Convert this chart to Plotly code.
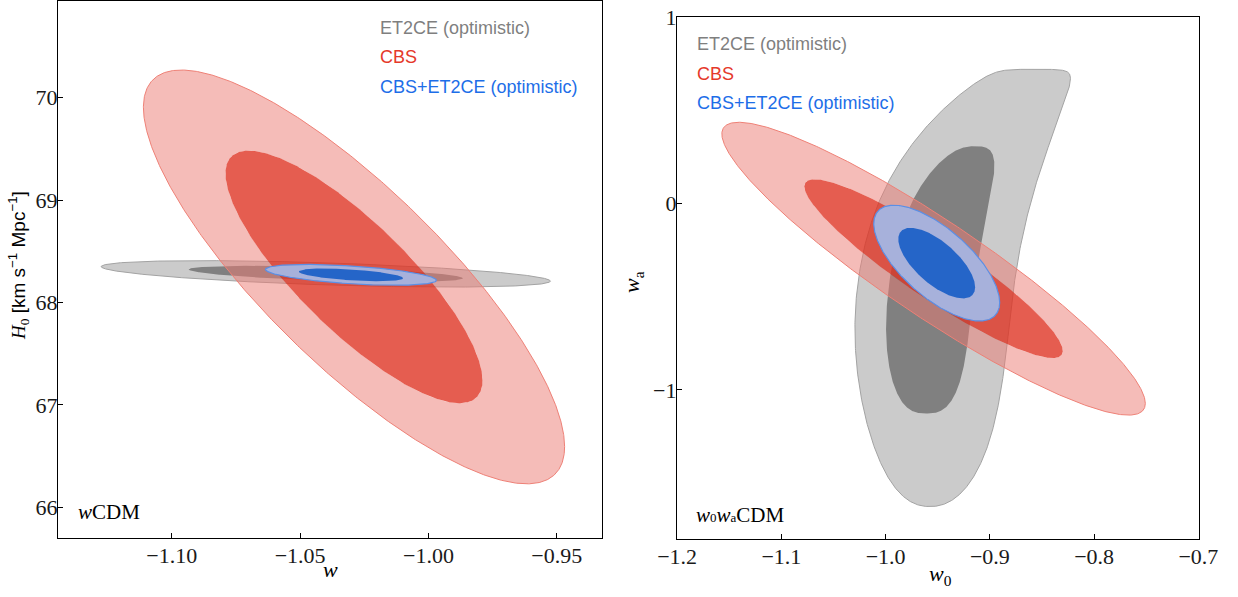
import numpy as np
import plotly.graph_objects as go

# ---------------------------------------------------------------- data
# 2D Gaussian forecasts: centre, 1-sigma widths and correlation
# wCDM panel, parameters (w, H0)
wcdm_names = ["ET2CE (optimistic)", "CBS", "CBS+ET2CE (optimistic)"]
wcdm_mu_w = [-1.040, -1.029, -1.0302]
wcdm_mu_h0 = [68.28, 68.25, 68.27]
wcdm_sig_w = [0.0352, 0.0330, 0.0134]
wcdm_sig_h0 = [0.052, 0.813, 0.041]
wcdm_rho = [-0.55, -0.82, -0.52]

# w0waCDM panel, parameters (w0, wa)
w0wa_names = ["CBS", "CBS+ET2CE (optimistic)"]
w0wa_mu_w0 = [-0.954, -0.951]
w0wa_mu_wa = [-0.35, -0.32]
w0wa_sig_w0 = [0.0817, 0.0243]
w0wa_sig_wa = [0.316, 0.125]
w0wa_rho = [-0.92, -0.68]

# ET2CE alone in w0waCDM is non-Gaussian (curved): centre line
# w0(wa) = b0 + b2 (wa - p)^2 + b3 (wa - p)^3 plus a rounded-box width,
# softly truncated by the upper prior edge on wa
et_curve_b0 = [-0.961, -0.957]      # [68%, 95%]
et_curve_b2 = 0.008
et_curve_b3 = 0.015
et_curve_p = -1.0
et_wa_centre = [-0.41, -0.413]
et_wa_half = [0.717, 1.213]
et_w0_half = [0.041, 0.075]
et_shape_top = [2.7, 2.5]
et_shape_bottom = [2.7, 2.2]
et_wa_prior_max = 0.722
et_prior_softness = 0.03

# 2-parameter chi^2 radii for the 68% and 95% regions
levels = [np.sqrt(2.30), np.sqrt(6.18)]

# ---------------------------------------------------------------- colours
GRAY_LIGHT, GRAY_DARK, GRAY_EDGE = "#cbcbcb", "#808080", "#a3a3a3"
RED_LIGHT = "rgba(235,122,114,0.50)"
RED_DARK = "rgba(222,52,36,0.80)"
RED_EDGE = "rgba(238,128,118,1)"
BLUE_LIGHT, BLUE_DARK, BLUE_EDGE = "#a7b1db", "#2565c8", "#5b8fe6"
TXT_GRAY, TXT_RED, TXT_BLUE = "#7f7f7f", "#e5392a", "#1d6ee8"

SERIF = "Liberation Serif"
SANS = "Liberation Sans"

t = np.linspace(0, 2 * np.pi, 721)


def ellipse(mx, my, sx, sy, rho, k):
    x = mx + k * sx * np.cos(t)
    y = my + k * sy * (rho * np.cos(t) + np.sqrt(1 - rho ** 2) * np.sin(t))
    return x, y


def ring(outer, inner):
    # outer boundary, then the inner one reversed so it becomes a hole
    ox, oy = outer
    ix, iy = inner
    x = np.concatenate([ox, [None], ix[::-1]])
    y = np.concatenate([oy, [None], iy[::-1]])
    return x, y


def curved_region(i):
    c = np.cos(t)
    s = np.sin(t)
    n = np.where(s >= 0, et_shape_top[i], et_shape_bottom[i])
    u = np.sign(c) * np.abs(c) ** (2 / n) * et_w0_half[i]
    v = np.sign(s) * np.abs(s) ** (2 / n) * et_wa_half[i]
    wa_raw = et_wa_centre[i] + v
    tau = et_prior_softness
    wa = et_wa_prior_max - tau * np.logaddexp(0.0, (et_wa_prior_max - wa_raw) / tau)
    d = wa - et_curve_p
    w0 = et_curve_b0[i] + et_curve_b2 * d ** 2 + et_curve_b3 * d ** 3 + u
    return w0, wa


fig = go.Figure()


def add_fill(x, y, fill, xa, ya, edge=None, width=0):
    fig.add_trace(go.Scatter(
        x=x, y=y, mode="lines", fill="toself", fillcolor=fill,
        line=dict(color=edge if edge else "rgba(0,0,0,0)", width=width),
        hoverinfo="skip", showlegend=False, xaxis=xa, yaxis=ya))


# ---------------- wCDM panel
# ET2CE
e_in = ellipse(wcdm_mu_w[0], wcdm_mu_h0[0], wcdm_sig_w[0], wcdm_sig_h0[0], wcdm_rho[0], levels[0])
e_out = ellipse(wcdm_mu_w[0], wcdm_mu_h0[0], wcdm_sig_w[0], wcdm_sig_h0[0], wcdm_rho[0], levels[1])
add_fill(*e_out, GRAY_LIGHT, "x", "y", GRAY_EDGE, 1)
add_fill(*e_in, GRAY_DARK, "x", "y")
# CBS
e_in = ellipse(wcdm_mu_w[1], wcdm_mu_h0[1], wcdm_sig_w[1], wcdm_sig_h0[1], wcdm_rho[1], levels[0])
e_out = ellipse(wcdm_mu_w[1], wcdm_mu_h0[1], wcdm_sig_w[1], wcdm_sig_h0[1], wcdm_rho[1], levels[1])
add_fill(*ring(e_out, e_in), RED_LIGHT, "x", "y")
add_fill(*e_out, "rgba(0,0,0,0)", "x", "y", RED_EDGE, 1)
add_fill(*e_in, RED_DARK, "x", "y")
# combined
e_in = ellipse(wcdm_mu_w[2], wcdm_mu_h0[2], wcdm_sig_w[2], wcdm_sig_h0[2], wcdm_rho[2], levels[0])
e_out = ellipse(wcdm_mu_w[2], wcdm_mu_h0[2], wcdm_sig_w[2], wcdm_sig_h0[2], wcdm_rho[2], levels[1])
add_fill(*e_out, BLUE_LIGHT, "x", "y", BLUE_EDGE, 1.2)
add_fill(*e_in, BLUE_DARK, "x", "y")

# ---------------- w0waCDM panel
# ET2CE
add_fill(*curved_region(1), GRAY_LIGHT, "x2", "y2", GRAY_EDGE, 1)
add_fill(*curved_region(0), GRAY_DARK, "x2", "y2")
# CBS
e_in = ellipse(w0wa_mu_w0[0], w0wa_mu_wa[0], w0wa_sig_w0[0], w0wa_sig_wa[0], w0wa_rho[0], levels[0])
e_out = ellipse(w0wa_mu_w0[0], w0wa_mu_wa[0], w0wa_sig_w0[0], w0wa_sig_wa[0], w0wa_rho[0], levels[1])
add_fill(*ring(e_out, e_in), RED_LIGHT, "x2", "y2")
add_fill(*e_out, "rgba(0,0,0,0)", "x2", "y2", RED_EDGE, 1)
add_fill(*e_in, RED_DARK, "x2", "y2")
# combined
e_in = ellipse(w0wa_mu_w0[1], w0wa_mu_wa[1], w0wa_sig_w0[1], w0wa_sig_wa[1], w0wa_rho[1], levels[0])
e_out = ellipse(w0wa_mu_w0[1], w0wa_mu_wa[1], w0wa_sig_w0[1], w0wa_sig_wa[1], w0wa_rho[1], levels[1])
add_fill(*e_out, BLUE_LIGHT, "x2", "y2", BLUE_EDGE, 1.2)
add_fill(*e_in, BLUE_DARK, "x2", "y2")

# ---------------------------------------------------------------- axes
W, H = 1238, 597


def px(x):
    return x / W


def py(y):
    return 1 - y / H


axis_common = dict(showgrid=False, zeroline=False, showline=True, mirror=True,
                   automargin=False,
                   linecolor="black", linewidth=1.3, ticks="inside", ticklen=5,
                   tickwidth=1, tickcolor="black",
                   tickfont=dict(family=SERIF, size=22, color="#1a1a1a"))

w_ticks = [-1.10, -1.05, -1.00, -0.95]
h0_ticks = [66, 67, 68, 69, 70]
w0_ticks = [-1.2, -1.1, -1.0, -0.9, -0.8, -0.7]
wa_ticks = [-1, 0, 1]


def minus(v, fmt):
    return (fmt % v).replace("-", "\u2212")


fig.update_layout(
    width=W, height=H, margin=dict(l=0, r=0, t=0, b=0, autoexpand=False),
    paper_bgcolor="white", plot_bgcolor="white",
    xaxis=dict(axis_common, domain=[px(58), px(602)], range=[-1.1443, -0.9324],
               ticklabelstandoff=-3,
               tickvals=w_ticks, ticktext=[minus(v, "%.2f") for v in w_ticks]),
    yaxis=dict(axis_common, domain=[py(538), py(0.5)], range=[65.70, 70.95],
               ticklabelstandoff=-5,
               tickvals=h0_ticks, ticktext=[str(v) for v in h0_ticks]),
    xaxis2=dict(axis_common, domain=[px(677), px(1198.5)], range=[-1.2001, -0.6999],
                anchor="y2", tickvals=w0_ticks, ticklabelstandoff=-3,
                ticktext=[minus(v, "%.1f") for v in w0_ticks]),
    yaxis2=dict(axis_common, domain=[py(539), py(17)], range=[-1.8, 1.0002],
                anchor="x2", tickvals=wa_ticks, ticklabelstandoff=-5,
                ticktext=[minus(v, "%d") for v in wa_ticks]),
)

# ---------------------------------------------------------------- text
ann = []


def label(x, y, text, color="black", family=SANS, size=18, xanchor="left", angle=0):
    ann.append(dict(x=px(x), y=py(y), xref="paper", yref="paper", text=text,
                    showarrow=False, xanchor=xanchor, yanchor="middle",
                    textangle=angle, font=dict(family=family, size=size, color=color)))


legend_colors = [TXT_GRAY, TXT_RED, TXT_BLUE]
for i, name in enumerate(wcdm_names):
    label(378, 28 + 29.5 * i, name, legend_colors[i])
for i, name in enumerate(wcdm_names):
    label(695, 44 + 29.5 * i, name, legend_colors[i])

label(76, 512, "<i>w</i>CDM", family=SERIF, size=21)
label(694, 515, "<i>w</i><span style='font-size:13px'>0</span><i>w</i>"
      "<span style='font-size:13px'>a</span>CDM", family=SERIF, size=21)

label(330, 569, "<i>w</i>", family=SERIF, size=22, xanchor="center")
label(940, 575, "<i>w</i><sub>0</sub>", family=SERIF, size=22, xanchor="center")
label(18, 266, "<span style='font-family:Liberation Serif'><i>H</i><sub>0</sub></span>"
      " [km s<sup>\u22121</sup> Mpc<sup>\u22121</sup>]", size=19, xanchor="center", angle=-90)
label(633, 282, "<i>w</i><sub>a</sub>", family=SERIF, size=22, xanchor="center", angle=-90)

fig.update_layout(annotations=ann)
fig.write_html("out.html")
